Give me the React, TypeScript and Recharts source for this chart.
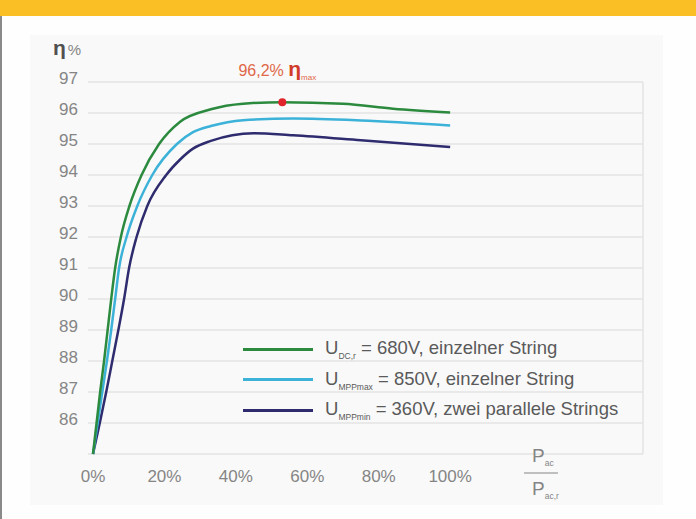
import {
  CartesianGrid,
  Legend,
  Line,
  LineChart,
  ReferenceDot,
  ReferenceLine,
  XAxis,
  YAxis,
} from 'recharts'

// Teillast in % der Nennleistung
const greenX = [0, 1, 2, 3.1, 4.1, 5.1, 6.2, 7.8, 10.2, 13.6, 18.5, 24.4, 33, 42, 53, 70, 84, 100]
const greenY = [85, 86, 87, 88, 89, 90, 91, 92, 93, 94, 95, 95.72, 96.12, 96.3, 96.35, 96.3, 96.14, 96.02]

const cyanX = [0, 1.3, 2.6, 3.9, 5.1, 6.2, 7.3, 9.4, 12.4, 16.6, 23.5, 28, 33, 42, 56, 75, 100]
const cyanY = [85, 86, 87, 88, 89, 90, 91, 92, 93, 94, 95, 95.38, 95.58, 95.77, 95.82, 95.76, 95.6]

const navyX = [0, 1.9, 3.7, 5.4, 7.1, 8.7, 10.1, 12.2, 15.2, 20.5, 24.4, 28, 33, 45, 56, 75, 100]
const navyY = [85, 86, 87, 88, 89, 90, 91, 92, 93, 94, 94.5, 94.85, 95.1, 95.35, 95.28, 95.12, 94.9]

const xTicks = [0, 20, 40, 60, 80, 100]
const yTicks = [85, 86, 87, 88, 89, 90, 91, 92, 93, 94, 95, 96, 97]

const seriesNames = ['U', 'U', 'U']
const seriesSubs = ['DC,r', 'MPPmax', 'MPPmin']
const seriesRest = [
  ' = 680V, einzelner String',
  ' = 850V, einzelner String',
  ' = 360V, zwei parallele Strings',
]
const seriesColors = ['#2b8a3e', '#3cb2d8', '#2e2c6e']

const peak = { x: 53, y: 96.35 }
const peakLabel = '96,2% '

const toPoints = (xs: number[], ys: number[]) => xs.map((x, i) => ({ x, y: ys[i] }))

const greenData = toPoints(greenX, greenY)
const cyanData = toPoints(cyanX, cyanY)
const navyData = toPoints(navyX, navyY)

const font = '"Liberation Sans", Arial, Helvetica, sans-serif'
const gray = '#858585'

function YTick(props: any) {
  const { x, y, payload } = props
  if (payload.value === 85) return <g />
  return (
    <text x={x} y={y} dy={-2} textAnchor='end' dominantBaseline='middle' fill={gray} fontSize={17} fontFamily={font}>
      {payload.value}
    </text>
  )
}

function renderLegend(props: any) {
  const payload = (props.payload ?? []) as { value: string; color: string }[]
  const order = ['green', 'cyan', 'navy']
  const rows = order.map((k) => payload.find((p) => p.value === k)).filter(Boolean) as { value: string; color: string }[]
  return (
    <div style={{ fontFamily: font, color: '#5a5a5a' }}>
      {rows.map((p, i) => (
        <div key={p.value} style={{ display: 'flex', alignItems: 'center', height: 30.5 }}>
          <div style={{ width: 70, height: 3, background: p.color, marginRight: 12 }} />
          <span style={{ fontSize: 18.5, whiteSpace: 'nowrap' }}>
            {seriesNames[i]}
            <sub style={{ fontSize: 8.5, verticalAlign: 'sub' }}>{seriesSubs[i]}</sub>
            {seriesRest[i]}
          </span>
        </div>
      ))}
    </div>
  )
}

function YLabel(props: any) {
  const { viewBox } = props
  return (
    <text x={viewBox.x + 53} y={viewBox.y - 27} fontFamily={font}>
      <tspan fill='#505050' fontSize={21} fontWeight='bold'>η</tspan>
      <tspan dx={2} fill={gray} fontSize={15}>%</tspan>
    </text>
  )
}

function XLabel(props: any) {
  const { viewBox } = props
  const cx = viewBox.x + 453
  const top = viewBox.y
  return (
    <g fontFamily={font} fill={gray}>
      <text x={cx - 9} y={top + 8}>
        <tspan fontSize={19}>P</tspan>
        <tspan fontSize={8.5} dy={4}>ac</tspan>
      </text>
      <line x1={cx - 17} x2={cx + 17} y1={top + 19} y2={top + 19} stroke={gray} strokeWidth={1.2} />
      <text x={cx - 9} y={top + 41}>
        <tspan fontSize={19}>P</tspan>
        <tspan fontSize={8.5} dy={4}>ac,r</tspan>
      </text>
    </g>
  )
}

function PeakLabel(props: any) {
  const { viewBox } = props
  const cx = viewBox.x + viewBox.width / 2
  const cy = viewBox.y + viewBox.height / 2
  return (
    <text x={cx - 5} y={cy - 26} textAnchor='middle' fontFamily={font}>
      <tspan fill='#e06848' fontSize={16}>{peakLabel}</tspan>
      <tspan fill='#d23a2a' fontSize={21} fontWeight='bold'>η</tspan>
      <tspan fill='#e06848' fontSize={8} dy={4}>max</tspan>
    </text>
  )
}

export default function App() {
  return (
    <div
      style={{
        position: 'absolute',
        left: 0,
        top: 0,
        width: 696,
        height: 519,
        background: '#fefefe',
        overflow: 'hidden',
      }}
    >
      <div style={{ position: 'absolute', left: 0, top: 0, width: 696, height: 16, background: '#fbbf26' }} />
      <div style={{ position: 'absolute', left: 0, top: 16, width: 2, height: 503, background: '#8a8a8a' }} />
      <div style={{ position: 'absolute', left: 30, top: 35, width: 633, height: 470, background: '#f9f9f9' }} />
      <div style={{ position: 'absolute', left: 0, top: 0 }}>
        <LineChart width={696} height={519} margin={{ top: 82, right: 53, left: 0, bottom: 0 }}>
          <CartesianGrid vertical={false} stroke='#e3e3e3' strokeWidth={1.5} />
          <XAxis
            type='number'
            dataKey='x'
            domain={[-1.4, 154]}
            allowDataOverflow
            ticks={xTicks}
            tickFormatter={(v) => `${v}%`}
            tickLine={false}
            axisLine={false}
            tickMargin={10}
            height={65}
            tick={{ fill: gray, fontSize: 17, fontFamily: font }}
            label={<XLabel />}
          />
          <YAxis
            type='number'
            domain={[85, 97]}
            ticks={yTicks}
            width={88}
            tickLine={false}
            axisLine={false}
            tickMargin={4}
            tick={<YTick />}
            label={<YLabel />}
          />
          <ReferenceLine x={154} stroke='#e3e3e3' strokeWidth={1.5} />
          <Legend
            layout='vertical'
            verticalAlign='middle'
            align='center'
            content={renderLegend}
            wrapperStyle={{ left: 243, top: 334, width: 380 }}
          />
          <Line data={navyData} dataKey='y' name='navy' type='monotone' stroke={seriesColors[2]} strokeWidth={2.5} dot={false} isAnimationActive={false} />
          <Line data={cyanData} dataKey='y' name='cyan' type='monotone' stroke={seriesColors[1]} strokeWidth={2.5} dot={false} isAnimationActive={false} />
          <Line data={greenData} dataKey='y' name='green' type='monotone' stroke={seriesColors[0]} strokeWidth={2.5} dot={false} isAnimationActive={false} />
          <ReferenceDot x={peak.x} y={peak.y} r={4} fill='#e0242c' stroke='none' label={<PeakLabel />} />
        </LineChart>
      </div>
    </div>
  )
}
